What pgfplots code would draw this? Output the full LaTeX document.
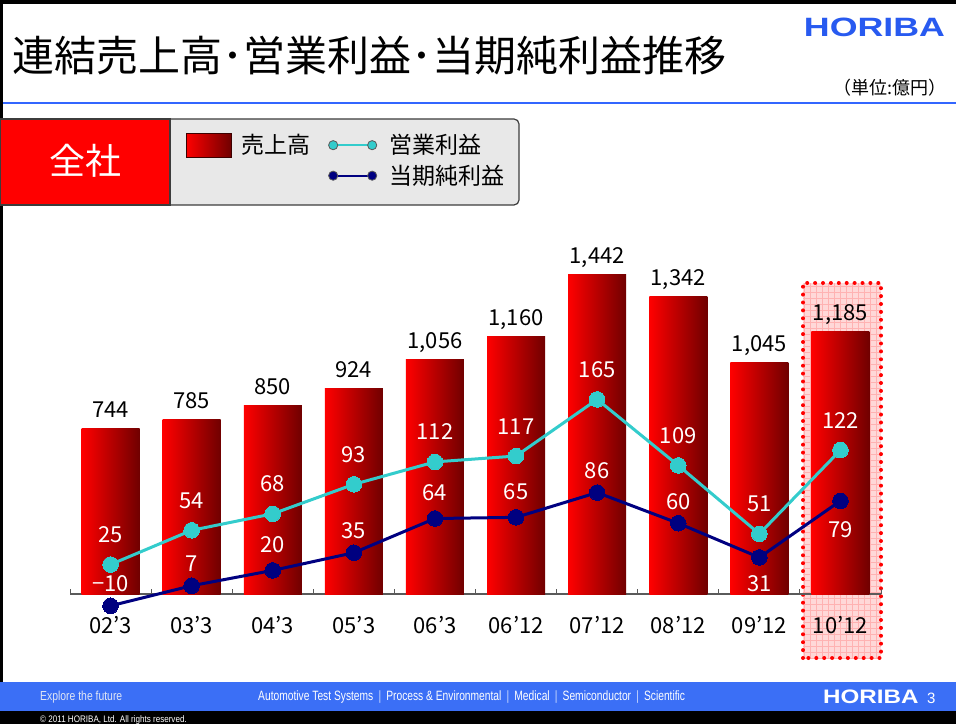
\documentclass[border=0pt]{standalone}
\usepackage{pgfplots}
\pgfplotsset{compat=1.18}
\usepackage{fontspec}
\setmainfont{Noto Sans CJK JP}
\newfontfamily\arial{Liberation Sans}
\definecolor{hblue}{RGB}{40,90,240}
\definecolor{footblue}{RGB}{59,111,246}
\definecolor{rulelblue}{RGB}{51,102,255}
\definecolor{opcyan}{RGB}{51,204,204}
\definecolor{ninavy}{RGB}{0,0,128}
\definecolor{darkred}{RGB}{112,0,0}
\definecolor{midred}{RGB}{222,0,0}
\definecolor{legendgray}{RGB}{232,232,232}
\definecolor{hlpink}{RGB}{255,216,216}
\definecolor{hlgrid}{RGB}{255,178,178}
\definecolor{axisgray}{RGB}{90,90,90}
\newcommand\fs[1]{\fontsize{#1}{#1}\selectfont}
\pgfplotsset{
  barlegend/.style={legend image code/.code={\path[##1, draw={rgb,255:red,60;green,0;blue,0}, line width=0.8pt] (0pt,-12pt) rectangle (45pt,12pt);}},
  linelegend/.style={legend image code/.code={\draw[##1, mark=none, line width=2pt] (0pt,0pt) -- (39pt,0pt); \filldraw[##1, mark=none, draw=black!65, line width=0.8pt] (0pt,0pt) circle (4.6pt) (39pt,0pt) circle (4.6pt);}},
  salesbar/.style={ybar, bar width=58pt, bar shift=0pt, draw=none,
    left color=red, middle color=midred, right color=darkred},
}
\begin{document}
\begin{tikzpicture}
\begin{scope}[x=1pt,y=1pt]
\path[use as bounding box] (0,0) rectangle (956,724);
\fill[white] (0,0) rectangle (956,724);
\fill[black] (0,720) rectangle (956,724);
\fill[black] (0,0) rectangle (3,724);
\fill[black] (0,0) rectangle (956,13);
\fill[footblue] (0,13) rectangle (956,42.5);
\draw[rulelblue, line width=1.5pt] (3,621) -- (956,621);
% title
\node[anchor=base west, inner sep=0pt] at (12,652) {\fs{42}連結売上高･営業利益･当期純利益推移};
\node[anchor=base, inner sep=0pt, text=hblue] at (874.5,687) {\arial\bfseries\fs{26.5}\scalebox{1.35}[1]{HORIBA}};
\node[anchor=base east, inner sep=0pt] at (947,629) {\fs{18}（単位:億円）};
% legend background
\filldraw[fill=legendgray, draw={rgb,255:red,60;green,60;blue,60}, line width=1.2pt, rounded corners=5pt] (165,519) rectangle (519,605);
\filldraw[fill=red, draw={rgb,255:red,60;green,60;blue,60}, line width=1.2pt] (0,519) rectangle (170,605);
\node[text=white, inner sep=0pt] at (85,563) {\fs{36}全社};
% highlight box
\fill[hlpink] (803,66) rectangle (881,441);
\draw[hlgrid, line width=0.3pt, step=6] (803,66) grid (881,441);
\draw[red, line width=4pt, line cap=round, dash pattern=on 0pt off 7.9pt] (803,66) rectangle (881,441);
% footer
\node[anchor=base west, inner sep=0pt, text={rgb,255:red,225;green,230;blue,245}] at (40,24) {\arial\fs{13}\scalebox{0.8}[1]{Explore the future}};
\node[anchor=base west, inner sep=0pt, text=white] at (258,24) {\arial\fs{13.5}\scalebox{0.76}[1]{Automotive Test Systems\enspace{\color{white!75!footblue}|}\enspace Process \& Environmental\enspace{\color{white!75!footblue}|}\enspace Medical\enspace{\color{white!75!footblue}|}\enspace Semiconductor\enspace{\color{white!75!footblue}|}\enspace Scientific}};
\node[anchor=base west, inner sep=0pt, text=white] at (823,21) {\arial\bfseries\fs{19.5}\scalebox{1.24}[1]{HORIBA}};
\node[anchor=base west, inner sep=0pt, text=white] at (927,21) {\arial\fs{15}3};
\node[anchor=base west, inner sep=0pt, text=white] at (40,2) {\arial\fs{9.5}\scalebox{0.85}[1]{© 2011 HORIBA, Ltd. All rights reserved.}};
\end{scope}

% ---- bars (sales) ----
\begin{axis}[
  at={(70pt,130pt)}, anchor=south west,
  scale only axis, width=811pt, height=355pt,
  xmin=-0.5, xmax=9.5, ymin=0, ymax=1600,
  enlargelimits=false, clip=false,
  axis x line*=bottom, axis y line=none,
  axis line style={draw=axisgray, line width=1.2pt},
  xtick={0,1,2,3,4,5,6,7,8,9},
  xticklabels={02’3,03’3,04’3,05’3,06’3,06’12,07’12,08’12,09’12,10’12},
  minor xtick={-0.5,0.5,1.5,2.5,3.5,4.5,5.5,6.5,7.5,8.5,9.5},
  tick align=inside, major tick length=0pt, minor tick length=5pt,
  minor tick style={draw=axisgray, line width=1pt},
  major tick style={draw=none},
  xticklabel style={font=\fs{22}, anchor=base, yshift=-39pt, inner sep=0pt},
  ytick=\empty,
  legend style={at={(0.1425,1.2997)}, anchor=north west, draw=none, fill=none,
    inner sep=0pt, row sep=0pt,
    nodes={inner sep=0pt, font=\fs{23}, text height=19pt, text depth=2pt},
    /tikz/every odd column/.append style={column sep=10pt}},
  legend cell align=left,
]
% one bar per \addplot so that each bar gets its own left-to-right gradient
\addplot[salesbar, barlegend] coordinates {(0,744)};
\addlegendentry{売上高}
\addplot[salesbar, forget plot] coordinates {(1,785)};
\addplot[salesbar, forget plot] coordinates {(2,850)};
\addplot[salesbar, forget plot] coordinates {(3,924)};
\addplot[salesbar, forget plot] coordinates {(4,1056)};
\addplot[salesbar, forget plot] coordinates {(5,1160)};
\addplot[salesbar, forget plot] coordinates {(6,1442)};
\addplot[salesbar, forget plot] coordinates {(7,1342)};
\addplot[salesbar, forget plot] coordinates {(8,1045)};
\addplot[salesbar, forget plot] coordinates {(9,1185)};
\addplot[draw=none, mark=none, forget plot,
  nodes near coords, point meta=explicit symbolic,
  every node near coord/.append style={font=\fs{22}, anchor=base, yshift=11pt, inner sep=0pt, text=black}]
  table[x=x, y=y, meta=lab] {
x y lab
0 744 744
1 785 785
2 850 850
3 924 924
4 1056 1,056
5 1160 1,160
6 1442 1,442
7 1342 1,342
8 1045 1,045
9 1185 1,185
};
\end{axis}

% ---- lines (operating income, net income) ----
\begin{axis}[
  at={(70pt,130pt)}, anchor=south west,
  scale only axis, width=811pt, height=355pt,
  xmin=-0.5, xmax=9.5, ymin=0, ymax=301,
  enlargelimits=false, clip=false, hide axis,
  legend style={at={(0.3181,1.2944)}, anchor=north west, draw=none, fill=none,
    inner sep=0pt, row sep=9.5pt,
    nodes={inner sep=0pt, font=\fs{23}, text height=19pt, text depth=2pt},
    /tikz/every odd column/.append style={column sep=12pt}},
  legend cell align=left,
]
\addplot[color=opcyan, line width=3pt, mark=*, mark size=7.8pt,
  mark options={fill=opcyan, draw=opcyan, line width=0pt}, linelegend,
  nodes near coords, point meta=explicit symbolic,
  visualization depends on={\thisrow{dy} \as \dy},
  every node near coord/.append style={font=\fs{22}, text=white, anchor=base, yshift=\dy pt, inner sep=0pt}]
  table[x=x, y=y, meta=lab] {
x y lab dy
0 25 25 22
1 54 54 22
2 68 68 22
3 93 93 22
4 112 112 22
5 117 117 22
6 165 165 22
7 109 109 22
8 51 51 22
9 122 122 22
};
\addlegendentry{営業利益}
\addplot[color=ninavy, line width=3pt, mark=*, mark size=7.8pt,
  mark options={fill=ninavy, draw=ninavy, line width=0pt}, linelegend,
  nodes near coords, point meta=explicit symbolic,
  visualization depends on={\thisrow{dy} \as \dy},
  every node near coord/.append style={font=\fs{22}, text=white, anchor=base, yshift=\dy pt, inner sep=0pt}]
  table[x=x, y=y, meta=lab] {
x y lab dy
0 -10 −10 14
1 7 7 14
2 20 20 18
3 35 35 14
4 64 64 18
5 65 65 18
6 86 86 14
7 60 60 14
8 31 31 -34
9 79 79 -37
};
\addlegendentry{当期純利益}
\end{axis}
\end{tikzpicture}
\end{document}
